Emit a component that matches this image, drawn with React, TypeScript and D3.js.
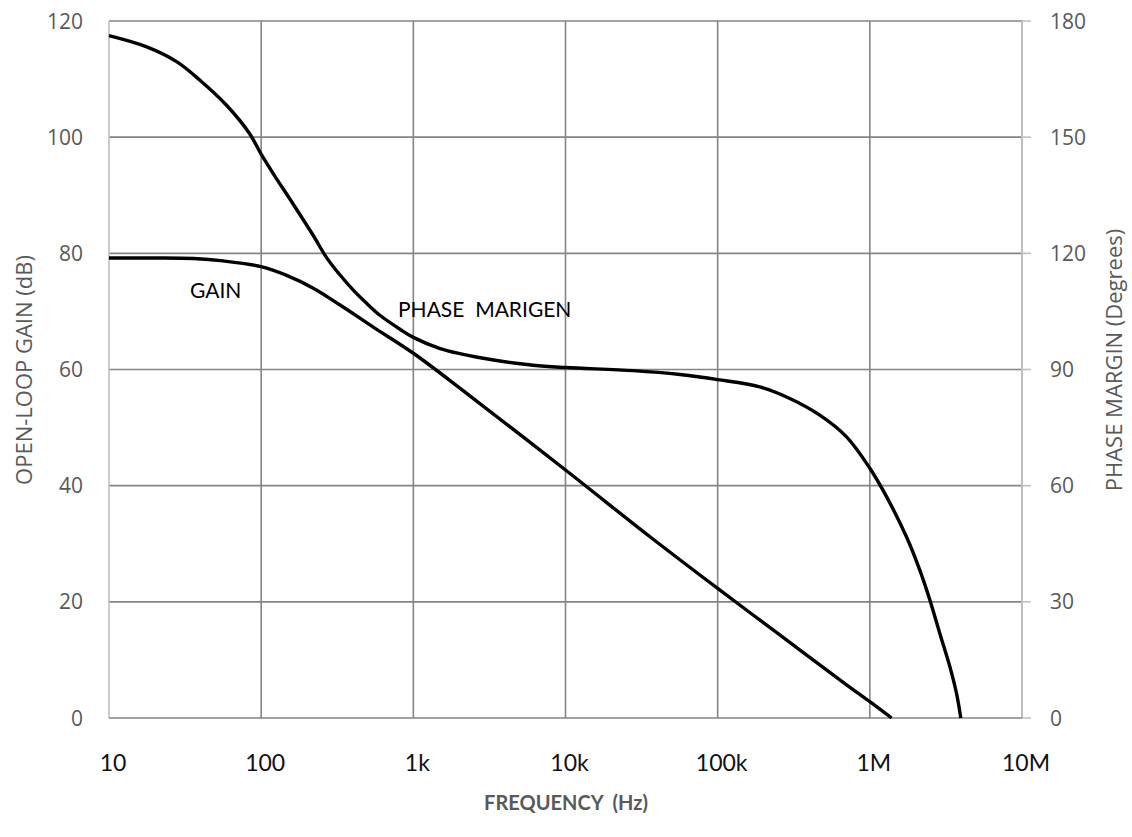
import React from "react";
import * as d3 from "d3";

const freqTicks = [10, 100, 1000, 10000, 100000, 1000000, 10000000];
const freqTickLabels = ["10", "100", "1k", "10k", "100k", "1M", "10M"];
const gainTicks = [0, 20, 40, 60, 80, 100, 120];
const phaseTicks = [0, 30, 60, 90, 120, 150, 180];

const gainFreq = [10, 20, 36, 56, 100, 147, 220, 330, 545, 1000, 2240, 10000, 35900, 100000, 256000, 703000, 1000000, 1390000];
const gainDb = [79.2, 79.2, 79.1, 78.7, 77.7, 76.2, 74.0, 71.1, 67.3, 62.8, 55.9, 42.7, 31.2, 22.3, 14.3, 5.7, 2.8, 0];

const phaseFreq = [10, 17.7, 27.8, 39.6, 59, 84, 100, 120, 163, 220, 269, 330, 403, 493, 603, 817, 1000, 1500, 2880, 6140, 10000, 27900, 56500, 100000, 189000, 298000, 469000, 703000, 1000000, 1290000, 1740000, 2130000, 2480000, 2880000, 3360000, 3710000, 3960000];
const phaseDeg = [176.2, 173.3, 169.5, 164.7, 158.3, 150.9, 145.6, 140.6, 132.6, 124.6, 118.9, 114.4, 110.5, 107.1, 104.0, 100.4, 98.3, 95.4, 92.9, 91.1, 90.5, 89.7, 88.7, 87.4, 85.5, 82.5, 78.2, 72.6, 64.5, 57.1, 46.8, 38.2, 30.5, 21.9, 13.2, 6.4, 0];

const W = 1132;
const H = 837;
const L = 109, R = 1022, T = 21, B = 718;

export default function App() {
  const x = d3.scaleLog().domain([10, 1e7]).range([L, R]);
  const yG = d3.scaleLinear().domain([0, 120]).range([B, T]);
  const yP = d3.scaleLinear().domain([0, 180]).range([B, T]);

  const gainPts: [number, number][] = gainFreq.map((f, i) => [x(f), yG(gainDb[i])]);
  const phasePts: [number, number][] = phaseFreq.map((f, i) => [x(f), yP(phaseDeg[i])]);
  const line = d3.line().curve(d3.curveCatmullRom.alpha(0.5));

  const grid = "#858585";
  const light = "#bfbfbf";
  const sans = "'Open Sans', sans-serif";
  const lato = "Lato, 'Open Sans', sans-serif";

  return (
    <svg width={W} height={H} style={{ position: "absolute", left: 0, top: 0, background: "#fff" }}>
      <rect x={0} y={0} width={W} height={H} fill="#fff" />
      {gainTicks.filter((t) => t > 0).map((t) => (
        <line key={"hg" + t} x1={L} x2={R} y1={yG(t)} y2={yG(t)} stroke={grid} strokeWidth={1.6} />
      ))}
      {freqTicks.slice(1, -1).map((f) => (
        <line key={"vg" + f} x1={x(f)} x2={x(f)} y1={T} y2={B} stroke={grid} strokeWidth={1.6} />
      ))}
      <line x1={L} x2={L} y1={T} y2={B} stroke={light} strokeWidth={1.6} />
      <line x1={R} x2={R} y1={T} y2={B} stroke={light} strokeWidth={2} />
      {phaseTicks.map((t) => (
        <line key={"rt" + t} x1={R} x2={R + 9} y1={yP(t)} y2={yP(t)} stroke={light} strokeWidth={1.6} />
      ))}
      <line x1={L} x2={R} y1={B} y2={B} stroke={grid} strokeWidth={1.6} />

      {gainTicks.map((t) => (
        <text key={"lt" + t} x={83} y={yG(t)} dy="0.36em" textAnchor="end" fontFamily={sans} fontSize={21} fill="#595959">
          {t}
        </text>
      ))}
      {phaseTicks.map((t) => (
        <text key={"rl" + t} x={1050} y={yP(t)} dy="0.36em" textAnchor="start" fontFamily={sans} fontSize={21} fill="#595959">
          {t}
        </text>
      ))}
      {freqTicks.map((f, i) => (
        <text key={"xt" + f} x={x(f) + 4} y={771} textAnchor="middle" fontFamily={lato} fontSize={23} fill="#111">
          {freqTickLabels[i]}
        </text>
      ))}

      <text transform={`translate(32,370) rotate(-90)`} textAnchor="middle" fontFamily={sans} fontSize={22} fill="#595959">
        OPEN-LOOP GAIN (dB)
      </text>
      <text transform={`translate(1122,360) rotate(-90)`} textAnchor="middle" fontFamily={sans} fontSize={22} fill="#595959">
        PHASE MARGIN (Degrees)
      </text>
      <text x={566} y={810} textAnchor="middle" fontFamily={lato} fontWeight="bold" fontSize={20} fill="#595959" xmlSpace="preserve">
        FREQUENCY  (Hz)
      </text>

      <path d={line(gainPts) || ""} fill="none" stroke="#000" strokeWidth={3.4} strokeLinejoin="round" />
      <path d={line(phasePts) || ""} fill="none" stroke="#000" strokeWidth={3.4} strokeLinejoin="round" />

      <text x={190} y={298} fontFamily={lato} fontSize={21} fill="#000">GAIN</text>
      <text x={398} y={317} fontFamily={lato} fontSize={21} fill="#000" xmlSpace="preserve">PHASE  MARIGEN</text>
    </svg>
  );
}
